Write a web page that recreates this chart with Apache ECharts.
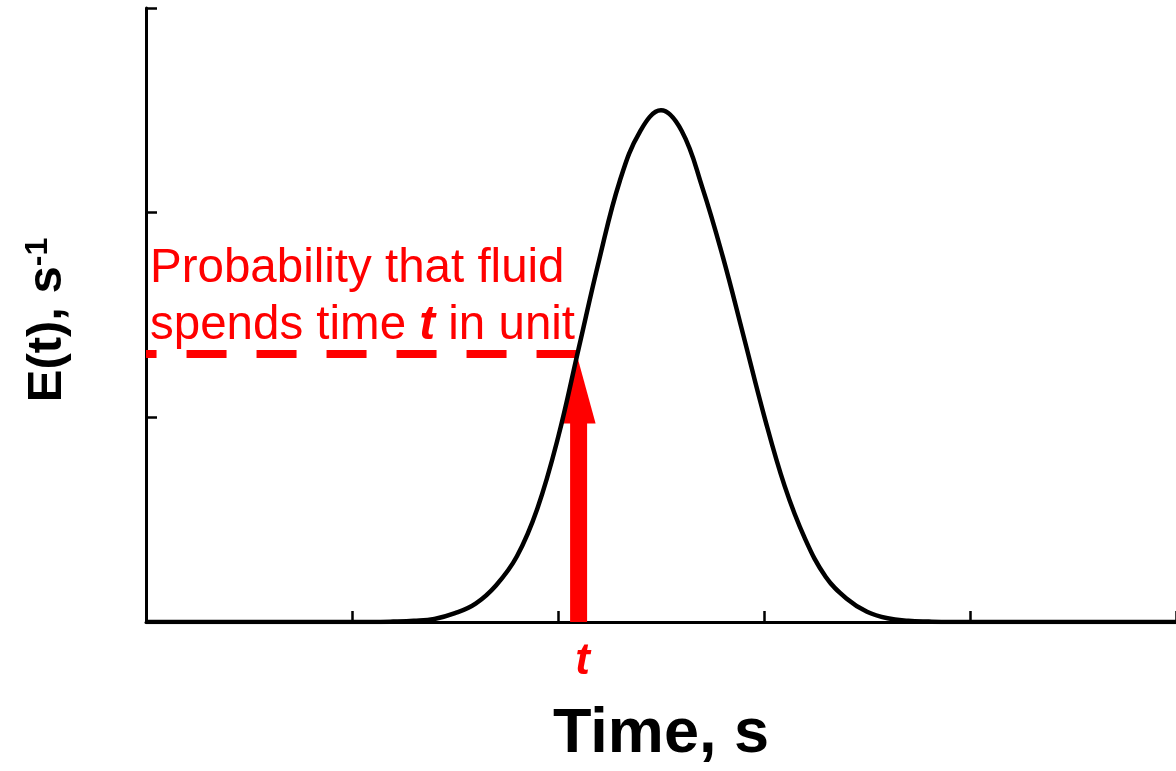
<!DOCTYPE html>
<html>
<head>
<meta charset="utf-8">
<script src="https://cdn.jsdelivr.net/npm/echarts@6/dist/echarts.min.js"></script>
<style>
  html, body { margin: 0; padding: 0; background: #ffffff; overflow: hidden; }
  #chart { width: 1176px; height: 771px; }
</style>
</head>
<body>
<div id="chart"></div>
<script>
// ---- Data ----
const timeValues = [0, 1.0, 1.1, 1.2, 1.3, 1.4, 1.5, 1.6, 1.7, 1.8, 1.9, 2.0, 2.1, 2.2, 2.3, 2.4, 2.5,
                    2.6, 2.7, 2.8, 2.9, 3.0, 3.1, 3.2, 3.3, 3.4, 3.5, 3.6, 3.7, 3.8, 3.9, 4.0, 5.0];
const eValues    = [0, 0.000, 0.000, 0.002, 0.006, 0.015, 0.043, 0.090, 0.180, 0.320, 0.555, 0.900, 1.335, 1.770, 2.155, 2.400, 2.500,
                    2.400, 2.125, 1.785, 1.400, 1.010, 0.665, 0.405, 0.220, 0.115, 0.050, 0.018, 0.006, 0.002, 0.000, 0, 0];
const xTicks = [0, 1, 2, 3, 4, 5];
const yTicks = [0, 1, 2, 3];
const markedTime = 2.10;          // the time t marked by the arrow
const markedE = 1.31;             // E(t) at that time (dashed line level)
const arrowHeadBase = 0.97;       // where the arrow head starts
const arrowTip = 1.30;            // arrow tip
const xTitle = 'Time, s';
const yTitleMain = 'E(t), s';
const yTitleSup = '-1';
const tLabel = 't';
const noteLine1 = 'Probability that fluid';
const noteLine2a = 'spends time ';
const noteLine2b = 't';
const noteLine2c = ' in unit';

const curveData = timeValues.map((t, i) => [t, eValues[i]]);
const dashData = [[markedTime - 0.01, markedE], [xTicks[0], markedE]];

const FONT = '"Liberation Sans", Arial, Helvetica, sans-serif';
const RED = '#ff0000';

const chart = echarts.init(document.getElementById('chart'), null, { renderer: 'canvas' });

const axisCommon = {
  type: 'value',
  axisLine: { show: true, onZero: false, lineStyle: { color: '#000', width: 3 } },
  axisTick: { show: true, inside: true, length: 11, lineStyle: { color: '#000', width: 2.5 } },
  axisLabel: { show: false },
  splitLine: { show: false }
};

chart.setOption({
  animation: false,
  backgroundColor: '#ffffff',
  grid: { left: 146, right: 0, top: 8, bottom: 142, containLabel: false },
  xAxis: Object.assign({}, axisCommon, {
    min: xTicks[0], max: xTicks[xTicks.length - 1], interval: 1,
    name: xTitle, nameLocation: 'middle', nameGap: 81,
    nameTextStyle: { fontFamily: FONT, fontSize: 63, fontWeight: 'bold', color: '#000' }
  }),
  yAxis: Object.assign({}, axisCommon, {
    min: yTicks[0], max: yTicks[yTicks.length - 1], interval: 1
  }),
  graphic: [
    {
      type: 'text',
      z: 100,
      x: 150, y: 240,
      style: {
        text: '{n|' + noteLine1 + '}\n{n|' + noteLine2a + '}{b|' + noteLine2b + '}{n|' + noteLine2c + '}',
        verticalAlign: 'top', align: 'left',
        rich: {
          n: { fontFamily: FONT, fontSize: 47.5, fill: RED, color: RED, lineHeight: 57 },
          b: { fontFamily: FONT, fontSize: 47.5, fontWeight: 'bold', fontStyle: 'italic', fill: RED, color: RED, lineHeight: 57 }
        }
      }
    },
    {
      type: 'text',
      z: 100,
      x: 47, y: 320,
      rotation: Math.PI / 2,
      style: {
        text: '{a|' + yTitleMain + '}{s|' + yTitleSup + '}',
        align: 'center', verticalAlign: 'middle',
        rich: {
          a: { fontFamily: FONT, fontSize: 49, fontWeight: 'bold', fill: '#000', color: '#000', lineHeight: 49 },
          s: { fontFamily: FONT, fontSize: 32, fontWeight: 'bold', fill: '#000', color: '#000', lineHeight: 49, verticalAlign: 'top' }
        }
      }
    }
  ],
  series: [
    {
      name: 'arrow',
      type: 'custom',
      z: 3,
      data: [[markedTime, 0, arrowHeadBase, arrowTip]],
      renderItem: function (params, api) {
        const x = api.value(0);
        const p0 = api.coord([x, api.value(1)]);
        const p1 = api.coord([x, api.value(2)]);
        const p2 = api.coord([x, api.value(3)]);
        return {
          type: 'group',
          children: [
            { type: 'rect', shape: { x: p0[0] - 8.5, y: p1[1] - 1, width: 17, height: p0[1] - p1[1] + 1 }, style: { fill: RED } },
            { type: 'polygon', shape: { points: [[p1[0] - 17.5, p1[1]], [p1[0] + 17, p1[1]], [p2[0] - 1.5, p2[1]]] }, style: { fill: RED } },
            { type: 'text', style: { text: tLabel, x: p0[0] + 4, y: p0[1] + 40, align: 'center', verticalAlign: 'middle',
                font: 'italic bold 44px ' + FONT, fill: RED } }
          ]
        };
      }
    },
    {
      name: 'level',
      type: 'line',
      z: 4,
      data: dashData,
      showSymbol: false,
      symbol: 'none',
      lineStyle: { color: RED, width: 8, type: [40, 30], cap: 'butt' }
    },
    {
      name: 'E(t)',
      type: 'line',
      z: 5,
      data: curveData,
      showSymbol: false,
      symbol: 'none',
      smooth: 0.4,
      lineStyle: { color: '#000', width: 4.5 }
    }
  ]
});
</script>
</body>
</html>
